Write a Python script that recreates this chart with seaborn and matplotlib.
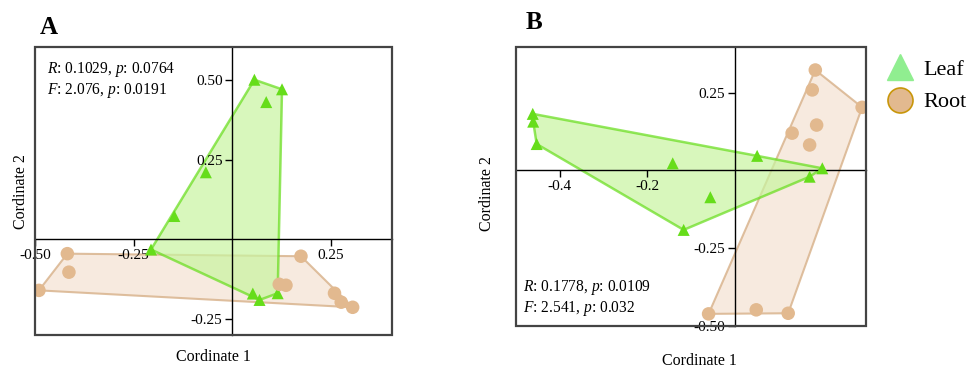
import numpy as np
import pandas as pd
import seaborn as sns
from matplotlib import pyplot as plt
from matplotlib.patches import Polygon, Rectangle
from matplotlib.lines import Line2D

# panel A (coordinates)
a_leaf_x = [0.056, 0.126, 0.086, -0.067, -0.147, -0.206, 0.052, 0.069, 0.115]
a_leaf_y = [0.50, 0.47, 0.43, 0.21, 0.073, -0.032, -0.17, -0.19, -0.169]
a_root_x = [-0.418, -0.414, -0.49, 0.174, 0.119, 0.136, 0.259, 0.276, 0.305]
a_root_y = [-0.045, -0.103, -0.16, -0.053, -0.141, -0.144, -0.169, -0.197, -0.213]

# panel B
b_leaf_x = [-0.462, -0.461, -0.453, -0.142, 0.051, 0.200, 0.171, -0.056, -0.117]
b_leaf_y = [0.182, 0.157, 0.085, 0.023, 0.047, 0.007, -0.020, -0.086, -0.191]
b_root_x = [0.184, 0.177, 0.291, 0.187, 0.131, 0.171, -0.060, 0.049, 0.122]
b_root_y = [0.323, 0.259, 0.203, 0.146, 0.120, 0.082, -0.461, -0.448, -0.459]

a_stats = ["$R$: 0.1029, $p$: 0.0764", "$F$: 2.076, $p$: 0.0191"]
b_stats = ["$R$: 0.1778, $p$: 0.0109", "$F$: 2.541, $p$: 0.032"]

leaf_c = "#66dd1a"
leaf_fill = "#c8f5a0"
root_c = "#e2b98f"
root_edge = "#d9b48e"
root_fill = "#f6e7da"

plt.rcParams['font.family'] = ['Liberation Serif', 'DejaVu Serif']
plt.rcParams['mathtext.fontset'] = 'custom'
plt.rcParams['mathtext.rm'] = 'Liberation Serif'
plt.rcParams['mathtext.it'] = 'Liberation Serif:italic'


def hull(xs, ys):
    pts = sorted(set(zip(xs, ys)))
    def cross(o, a, b):
        return (a[0]-o[0])*(b[1]-o[1]) - (a[1]-o[1])*(b[0]-o[0])
    lower, upper = [], []
    for p in pts:
        while len(lower) >= 2 and cross(lower[-2], lower[-1], p) <= 0:
            lower.pop()
        lower.append(p)
    for p in reversed(pts):
        while len(upper) >= 2 and cross(upper[-2], upper[-1], p) <= 0:
            upper.pop()
        upper.append(p)
    return np.array(lower[:-1] + upper[:-1])


def panel(ax, lx, ly, rx, ry, xlim, ylim, xt, xtl, yt, ytl):
    df = pd.DataFrame({
        "x": lx + rx, "y": ly + ry,
        "group": ["Leaf"] * len(lx) + ["Root"] * len(rx)})
    ax.add_patch(Polygon(hull(rx, ry), closed=True, facecolor=root_fill,
                         edgecolor=root_edge, lw=1.5, alpha=0.85, zorder=0.5))
    ax.add_patch(Polygon(hull(lx, ly), closed=True, facecolor=leaf_fill,
                         edgecolor=leaf_c, lw=1.8, alpha=0.7, zorder=0.6))
    sns.scatterplot(data=df, x="x", y="y", hue="group", style="group",
                    palette={"Leaf": leaf_c, "Root": root_c},
                    markers={"Leaf": "^", "Root": "o"},
                    size="group", sizes={"Leaf": 75, "Root": 95},
                    linewidth=0, legend=False, ax=ax, zorder=3)
    ax.set_xlim(xlim)
    ax.set_ylim(ylim)
    ax.spines['left'].set_position(('data', 0))
    ax.spines['bottom'].set_position(('data', 0))
    ax.spines['top'].set_visible(False)
    ax.spines['right'].set_visible(False)
    for s in ['left', 'bottom']:
        ax.spines[s].set_linewidth(1.0)
        ax.spines[s].set_color('black')
        ax.spines[s].set_zorder(2)
    ax.set_xticks(xt)
    ax.set_xticklabels(xtl)
    ax.set_yticks(yt)
    ax.set_yticklabels(ytl)
    ax.tick_params(axis='both', labelsize=11, length=5, width=1, direction='out', pad=2)
    ax.add_patch(Rectangle((0, 0), 1, 1, transform=ax.transAxes, fill=False,
                           edgecolor='#444444', lw=1.6, zorder=5, clip_on=False))
    ax.set_xlabel("")
    ax.set_ylabel("")


fig = plt.figure(figsize=(9.72, 3.69), dpi=100)
axA = fig.add_axes([0.036, 0.092, 0.367, 0.781])
axB = fig.add_axes([0.531, 0.1165, 0.360, 0.757])

panel(axA, a_leaf_x, a_leaf_y, a_root_x, a_root_y, (-0.50, 0.404), (-0.30, 0.603),
      [-0.50, -0.25, 0.25], ["-0.50", "-0.25", "0.25"],
      [-0.25, 0.25, 0.50], ["-0.25", "0.25", "0.50"])
panel(axB, b_leaf_x, b_leaf_y, b_root_x, b_root_y, (-0.50, 0.30), (-0.50, 0.398),
      [-0.4, -0.2], ["-0.4", "-0.2"],
      [-0.50, -0.25, 0.25], ["-0.50", "-0.25", "0.25"])

axA.text(0.035, 0.955, a_stats[0] + "\n" + a_stats[1], transform=axA.transAxes,
         ha='left', va='top', fontsize=11.2, linespacing=1.15)
axB.text(0.02, 0.03, b_stats[0] + "\n" + b_stats[1], transform=axB.transAxes,
         ha='left', va='bottom', fontsize=11.2, linespacing=1.15)

fig.text(0.041, 0.925, "A", fontsize=18, fontweight='bold', ha='left', va='center')
fig.text(0.541, 0.94, "B", fontsize=18, fontweight='bold', ha='left', va='center')

fig.text(0.22, 0.032, "Cordinate 1", fontsize=11.5, ha='center', va='center')
fig.text(0.022, 0.48, "Cordinate 2", fontsize=11.5, ha='center', va='center', rotation=90)
fig.text(0.72, 0.022, "Cordinate 1", fontsize=11.5, ha='center', va='center')
fig.text(0.501, 0.475, "Cordinate 2", fontsize=11.5, ha='center', va='center', rotation=90)

handles = [
    Line2D([], [], marker='^', linestyle='', markersize=19,
           markerfacecolor='#90ee90', markeredgecolor='#90ee90', label='Leaf'),
    Line2D([], [], marker='o', linestyle='', markersize=18,
           markerfacecolor=root_c, markeredgecolor='#c8960a', markeredgewidth=1.2, label='Root'),
]
fig.legend(handles=handles, loc='upper left', bbox_to_anchor=(0.9, 0.87),
           frameon=False, fontsize=16, handletextpad=0.4, labelspacing=0.55,
           handlelength=1.3, borderpad=0)

fig.savefig("out.png", dpi=100)
